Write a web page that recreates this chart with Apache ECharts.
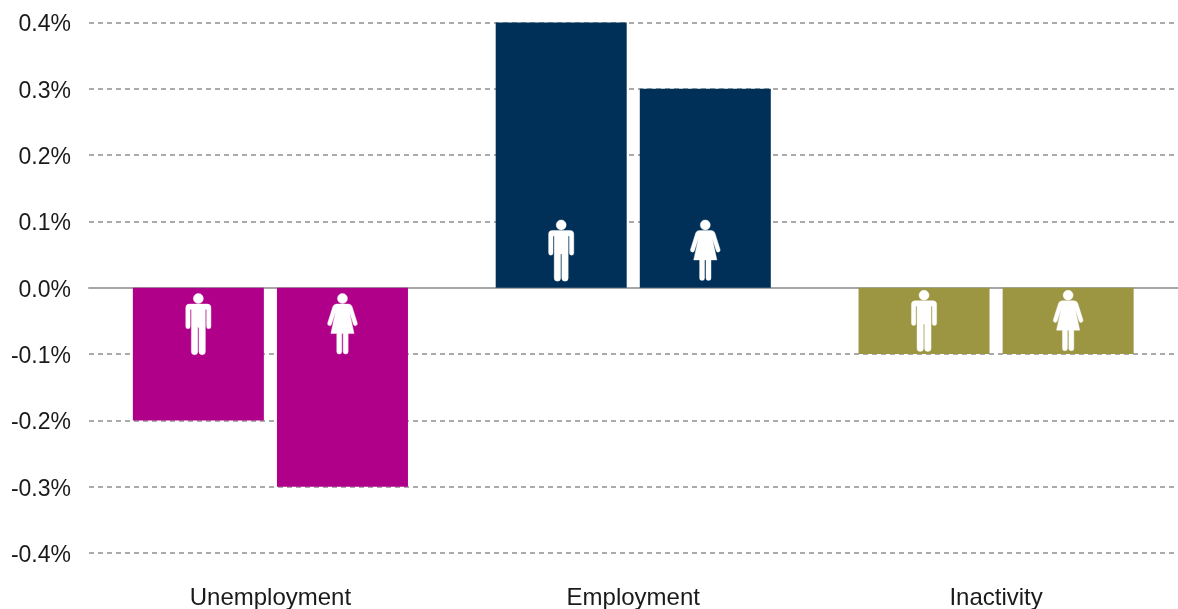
<!DOCTYPE html>
<html><head><meta charset="utf-8">
<style>html,body{margin:0;padding:0;background:#fff}#c{width:1178px;height:609px}</style>
<script src="https://cdn.jsdelivr.net/npm/echarts@6/dist/echarts.min.js"></script>
</head><body><div id="c"></div>
<script>
const categories = ['Unemployment', 'Employment', 'Inactivity'];
const maleValues = [-0.2, 0.4, -0.1];
const femaleValues = [-0.3, 0.3, -0.1];
const categoryColors = ['#b0008a', '#003057', '#9c9642'];
const iconCentres = [-0.054, 0.057, -0.049];

const MAN = 'M0 0a5 5 0 1 1-.01 0zM-9 10.5H9Q12.6 10.5 12.6 14V33a2.2 2.2 0 0 1-4.4 0V16H7V58a2.6 2.6 0 0 1-6.4 0V34H-.6V58a2.6 2.6 0 0 1-6.4 0V16H-8.2V33a2.2 2.2 0 0 1-4.4 0V14Q-12.6 10.5-9 10.5Z';
const WOMAN = 'M0 0a5 5 0 1 1-.01 0zM-6 10.5H6Q8.6 10.5 9.6 13L14.8 29.5a2 2 0 0 1-3.9 1.2L7 18.5 11.6 40H5.7V58a2.5 2.5 0 0 1-5 0V40H-.7V58a2.5 2.5 0 0 1-5 0V40H-11.6L-7 18.5-10.9 30.7a2 2 0 0 1-3.9-1.2L-9.6 13Q-8.6 10.5-6 10.5Z';

const colored = vals => vals.map((v, i) => ({ value: v, itemStyle: { color: categoryColors[i] } }));

function iconSeries(path, idx) {
  return {
    type: 'custom', z: 5, silent: true,
    encode: { x: 0, y: 1 },
    data: categories.map((c, i) => [i, iconCentres[i]]),
    renderItem(params, api) {
      const layout = api.barLayout({ count: 2, barWidth: 131, barGap: '10%' })[idx];
      const p = api.coord([api.value(0), api.value(1)]);
      return {
        type: 'path', x: p[0] + layout.offsetCenter, y: p[1] - 30,
        shape: { pathData: path },
        style: { fill: '#fff', stroke: '#fff', lineWidth: 0.4 }
      };
    }
  };
}

const chart = echarts.init(document.getElementById('c'), null, { renderer: 'canvas' });
chart.setOption({
  animation: false,
  backgroundColor: '#fff',
  grid: { left: 89, right: 0.5, top: 22.5, bottom: 56, containLabel: false, outerBoundsMode: 'none' },
  xAxis: {
    type: 'category', data: categories,
    axisTick: { show: false },
    axisLine: { onZero: true, lineStyle: { color: '#a6a6a6', width: 2 } },
    axisLabel: { interval: 0, color: '#1a1a1a', fontFamily: 'Liberation Sans', fontSize: 24, margin: 33 },
    position: 'bottom'
  },
  yAxis: {
    type: 'value', min: -0.4, max: 0.4, interval: 0.1,
    axisLine: { show: false }, axisTick: { show: false },
    axisLabel: {
      color: '#1a1a1a', fontFamily: 'Liberation Sans', fontSize: 23, margin: 18,
      verticalAlign: 'top', padding: [-9, 0, 0, 0],
      formatter: v => v.toFixed(1) + '%'
    },
    splitLine: { show: true, lineStyle: { color: '#8f8f8f', type: [5, 4], width: 1.5 } }
  },
  series: [
    { type: 'bar', name: 'Men', data: colored(maleValues), barWidth: 131, barGap: '10%' },
    { type: 'bar', name: 'Women', data: colored(femaleValues), barWidth: 131, barGap: '10%' },
    iconSeries(MAN, 0),
    iconSeries(WOMAN, 1)
  ]
});
</script></body></html>
